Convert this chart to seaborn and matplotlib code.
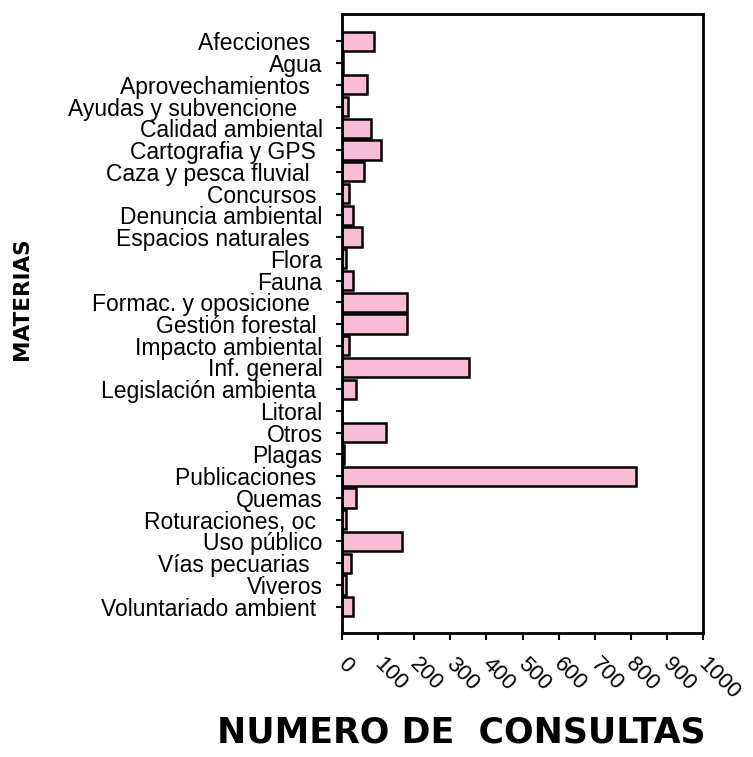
import matplotlib
matplotlib.use("Agg")
import matplotlib.pyplot as plt
import matplotlib.transforms as mtransforms
import seaborn as sns
import pandas as pd

categories = [
    "Afecciones  ", "Agua", "Aprovechamientos  ", "Ayudas y subvencione    ",
    "Calidad ambiental", "Cartografia y GPS ", "Caza y pesca fluvial  ",
    "Concursos ", "Denuncia ambiental", "Espacios naturales  ", "Flora",
    "Fauna", "Formac. y oposicione  ", "Gestión forestal ", "Impacto ambiental",
    "Inf. general", "Legislación ambienta ", "Litoral", "Otros", "Plagas",
    "Publicaciones ", "Quemas", "Roturaciones, oc ", "Uso público",
    "Vías pecuarias  ", "Viveros", "Voluntariado ambient ",
]
values = [88, 4, 68, 17, 81, 107, 62, 18, 30, 56, 10, 30, 179, 179, 18,
          352, 38, 0, 121, 6, 815, 38, 12, 165, 26, 12, 31]
xticks = list(range(0, 1001, 100))

df = pd.DataFrame({"materia": categories, "consultas": values})

sns.set_style("white")
plt.rcParams["font.family"] = ["Liberation Sans", "DejaVu Sans"]
plt.rcParams["text.color"] = "black"
plt.rcParams["xtick.color"] = "black"
plt.rcParams["ytick.color"] = "black"
plt.rcParams["axes.labelcolor"] = "black"

fig = plt.figure(figsize=(7.53, 7.57), dpi=100)
ax = fig.add_axes([0.4542, 0.1638, 0.4794, 0.8177])

sns.barplot(data=df, y="materia", x="consultas", orient="h", ax=ax,
            color="#F9BCD7", saturation=1, width=0.88,
            edgecolor="black", linewidth=1.8)

ax.set_xlim(0, 1000)
ax.set_ylim(26 + 1.21, -1.255)
ax.set_xticks(xticks)
ax.set_xticklabels([str(t) for t in xticks], rotation=-45, ha="left",
                   va="top", rotation_mode="anchor", fontsize=16)
ax.tick_params(axis="y", labelsize=16.5, length=4, width=1.5, pad=10,
               left=True, direction="out", labelcolor="black")
ax.tick_params(axis="x", length=5, width=1.5, pad=10, bottom=True,
               direction="out", labelcolor="black")
offset = mtransforms.ScaledTranslation(6 / 100, 0, fig.dpi_scale_trans)
for lbl in ax.get_xticklabels():
    lbl.set_transform(lbl.get_transform() + offset)

for s in ax.spines.values():
    s.set_visible(True)
    s.set_color("black")
    s.set_linewidth(2)

ax.set_xlabel("")
ax.set_ylabel("")
fig.text(0.612, 0.032, "NUMERO DE  CONSULTAS", ha="center", va="center",
         fontsize=25, fontweight="bold", family=["DejaVu Sans"], color="black")
fig.text(0.029, 0.606, "MATERIAS", ha="center", va="center", rotation=90,
         fontsize=15.5, fontweight="bold", family=["DejaVu Sans"], color="black")

fig.savefig("out.png", dpi=100)
